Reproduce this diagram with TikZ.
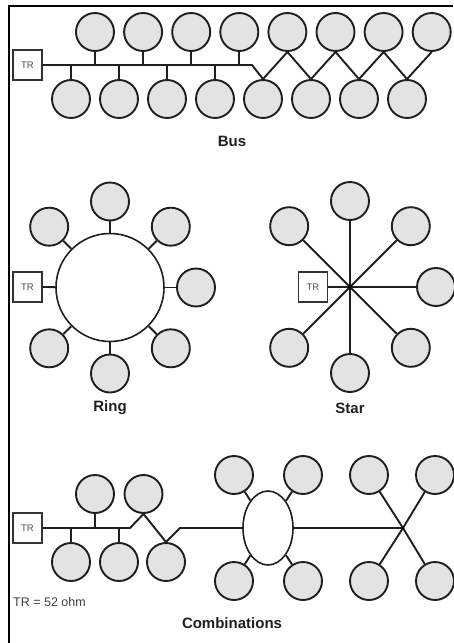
\documentclass[tikz,border=0pt]{standalone}
\usepackage{fontspec}
\setmainfont{Liberation Sans}
\usetikzlibrary{shapes.geometric}
\begin{document}
\begin{tikzpicture}[x=1pt,y=-1pt,
  stn/.style={circle,draw=black!88,fill=black!11,line width=1.9pt,minimum size=38pt,inner sep=0pt},
  trbox/.style={rectangle,draw=black!80,line width=1.3pt,fill=white,minimum width=29pt,minimum height=30pt,inner sep=0pt,font=\fontsize{9.5}{10}\selectfont,text=black!70},
  wire/.style={line width=1.9pt,draw=black!88},
  bigring/.style={circle,draw=black!88,fill=white,line width=1.6pt,minimum size=108pt,inner sep=0pt},
  ell/.style={ellipse,draw=black!88,fill=white,line width=1.6pt,minimum width=50pt,minimum height=74pt,inner sep=0pt},
  lbl/.style={font=\fontsize{15}{18}\selectfont\bfseries,text=black!88},
  hubdot/.style={circle,fill=black,inner sep=0pt,minimum size=4pt}
]
\useasboundingbox (0,0) rectangle (453,643);
\draw[line width=2pt] (9,643) -- (9,6) -- (453,6);

% ---------- Bus ----------
\node[trbox] (btr) at (27.5,65) {TR};
\foreach \i in {1,...,8} {
  \node[stn] (bt\i) at ({95+48.1*(\i-1)},32) {};
  \node[stn] (bb\i) at ({71+48*(\i-1)},99) {};
}
\coordinate (bk) at (252,65);
\draw[wire] (btr.east) -- (bk) -- (bb5.north) -- (bt5.south) -- (bb6.north) -- (bt6.south)
  -- (bb7.north) -- (bt7.south) -- (bb8.north) -- (bt8.south);
\foreach \i in {1,...,4} {
  \draw[wire] (bt\i.south) -- (bt\i.south |- bk);
  \draw[wire] (bb\i.north) -- (bb\i.north |- bk);
}
\node[lbl] (lbus) at (232,141) {Bus};

% ---------- Ring ----------
\node[bigring] (ring) at (110,287.5) {};
\node[trbox] (rtr) at (27.5,287) {TR};
\draw[wire] (rtr.east) -- (ring);
\foreach \a in {0,45,90,135,225,270,315} {
  \node[stn] (r\a) at ({110+86*cos(\a)},{287.5+86*sin(\a)}) {};
  \draw[wire] (r\a) -- (ring);
}
\node[lbl] (lring) at (110,408) {Ring};

% ---------- Star ----------
\coordinate (shub) at (350,287);
\node[trbox] (str) at (313,287) {TR};
\draw[wire] (str.east) -- (shub);
\foreach \a in {0,45,90,135,180,225,270,315} {
  \ifnum\a=180\relax\else
  \node[stn] (s\a) at ({350+86*cos(\a)},{287+86*sin(\a)}) {};
  \draw[wire] (s\a) -- (shub);
  \fi
}
\node[hubdot] (sdot) at (shub) {};
\node[lbl] (lstar) at (350,408) {Star};

% ---------- Combinations ----------
\node[trbox] (ctr) at (27.5,528) {TR};
\node[stn] (ct1) at (95,494) {};
\node[stn] (ct2) at (143.5,494) {};
\node[stn] (cb1) at (71,562) {};
\node[stn] (cb2) at (119,562) {};
\node[stn] (cb3) at (166,562) {};
\coordinate (ck1) at (130,528);
\coordinate (ck2) at (180,528);
\node[ell] (cell) at (268,528) {};
\draw[wire] (ctr.east) -- (ck1) -- (ct2.south) -- (cb3.north) -- (ck2) -- (cell);
\draw[wire] (ct1.south) -- (ct1.south |- ck1);
\draw[wire] (cb1.north) -- (cb1.north |- ck1);
\draw[wire] (cb2.north) -- (cb2.north |- ck1);
\node[stn] (e1) at (234,475) {};
\node[stn] (e2) at (303,475) {};
\node[stn] (e3) at (234,581) {};
\node[stn] (e4) at (303,581) {};
\foreach \n in {e1,e2,e3,e4} { \draw[wire] (\n) -- (cell); }
\coordinate (chub) at (403,528);
\draw[wire] (cell) -- (chub);
\node[stn] (x1) at (369,475) {};
\node[stn] (x2) at (435,475) {};
\node[stn] (x3) at (369,581) {};
\node[stn] (x4) at (435,581) {};
\foreach \n in {x1,x2,x3,x4} { \draw[wire] (\n) -- (chub); }
\node[hubdot,minimum size=3pt] (cdot) at (chub) {};
\node[anchor=west,font=\fontsize{12.5}{13}\selectfont,text=black!75,inner sep=0pt] (note) at (13,602) {TR = 52 ohm};
\node[lbl] (lcomb) at (232,623) {Combinations};
\end{tikzpicture}
\end{document}
